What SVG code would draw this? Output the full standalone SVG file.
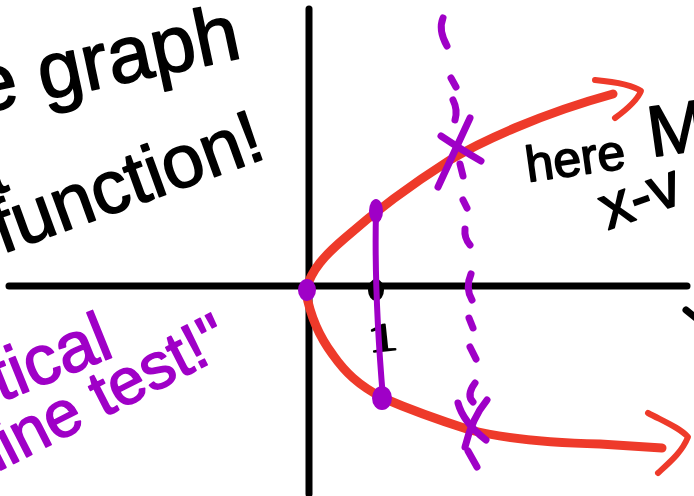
<svg xmlns="http://www.w3.org/2000/svg" width="694" height="496" viewBox="0 0 694 496">
<style>
.ax{stroke:#000;stroke-width:7;stroke-linecap:round;fill:none}
.red{stroke:#ee3a2a;stroke-width:9;stroke-linecap:round;stroke-linejoin:round;fill:none}
.redh{stroke:#ee3a2a;stroke-width:6;stroke-linecap:round;stroke-linejoin:round;fill:none}
.pl{stroke:#9f00c7;stroke-width:6;stroke-linecap:round;stroke-linejoin:round;fill:none}
.pd{stroke:#9f00c7;stroke-width:7;stroke-linecap:round;stroke-linejoin:round;fill:none}
.pdot{fill:#9f00c7}
.hb{font-family:"Liberation Sans","DejaVu Sans",sans-serif;fill:#000;stroke:#000;stroke-width:1.6;stroke-linejoin:round}
.hp{font-family:"Liberation Sans","DejaVu Sans",sans-serif;fill:#9f00c7;stroke:#9f00c7;stroke-width:1.6;stroke-linejoin:round}
</style>
<rect width="694" height="496" fill="#fff"/>
<g id="axes">
<line class="ax" x1="309" y1="9" x2="309" y2="494"/>
<line class="ax" x1="9" y1="286" x2="687" y2="286"/>
<line class="ax" x1="686" y1="310" x2="696" y2="318"/>
<ellipse cx="376" cy="290" rx="8" ry="11" fill="#000"/>
<text class="hb" font-family="Liberation Serif" font-size="40" transform="translate(384,351) rotate(-6) scale(1.5,1)" text-anchor="middle" style="font-family:'Liberation Serif',serif">1</text>
</g>
<g id="curve">
<path class="red" d="M306,290 C311,270 325,255 345,238 C362,223 395,195 450,160 C480,142 540,114 613,94"/>
<path class="redh" d="M595,80 C615,82 633,85 641,91 C637,101 626,110 615,118"/>
<path class="red" d="M306,292 C310,315 318,335 333,355 C345,372 358,385 383,398 C420,414 445,422 470,430 C510,440 560,443 600,444 L662,448"/>
<path class="redh" d="M648,413 C665,422 680,428 688,437 C682,452 670,462 658,473"/>
</g>
<g id="solid-line">
<path class="pl" d="M376,212 Q374,292 383,398"/>
<ellipse class="pdot" cx="376" cy="211" rx="7" ry="12"/>
<ellipse class="pdot" cx="382" cy="398" rx="10" ry="12"/>
<ellipse class="pdot" cx="307" cy="290" rx="9" ry="11"/>
</g>
<g id="dashed-line">
<path class="pd" d="M443,18 Q438,30 447,46"/>
<path class="pd" d="M451,78 L456,87"/>
<path class="pd" d="M453,100 Q458,110 455,120"/>
<path class="pd" stroke-width="10" d="M470,118 Q456,148 438,187"/>
<path class="pd" stroke-width="9" d="M441,136 Q462,150 481,161"/>
<path class="pd" d="M460,164 L463,176"/>
<path class="pd" d="M463,200 L467,208"/>
<path class="pd" d="M465,229 Q464,238 470,245"/>
<path class="pd" d="M471,274 Q465,288 472,300"/>
<path class="pd" d="M469,318 L473,328"/>
<path class="pd" d="M470,347 L476,359"/>
<path class="pd" d="M475,383 Q466,395 473,402"/>
<path class="pd" d="M458,403 Q463,422 486,440"/>
<path class="pd" d="M487,400 Q472,418 465,447"/>
<path class="pd" d="M468,451 L477,467"/>
</g>
<g id="labels">
<text class="hb" font-size="80" transform="translate(-22,114) rotate(-12)">e graph</text>
<text class="hb" font-size="80" transform="translate(-32,205) rotate(-20)">a</text>
<text class="hb" font-size="75" transform="translate(2,254) rotate(-20)">function!</text>
<text class="hb" font-size="50" transform="translate(528,182) rotate(-8)">here</text>
<text class="hb" font-size="72" transform="translate(651,157) rotate(-8)">M</text>
<text class="hb" font-size="62" transform="translate(608,230) rotate(-20)">x-v</text>
<text class="hp" font-size="70" transform="translate(-21,411) rotate(-22)">rtical</text>
<text class="hp" font-size="65" transform="translate(-3,472) rotate(-27)">line test!"</text>
</g>
</svg>
